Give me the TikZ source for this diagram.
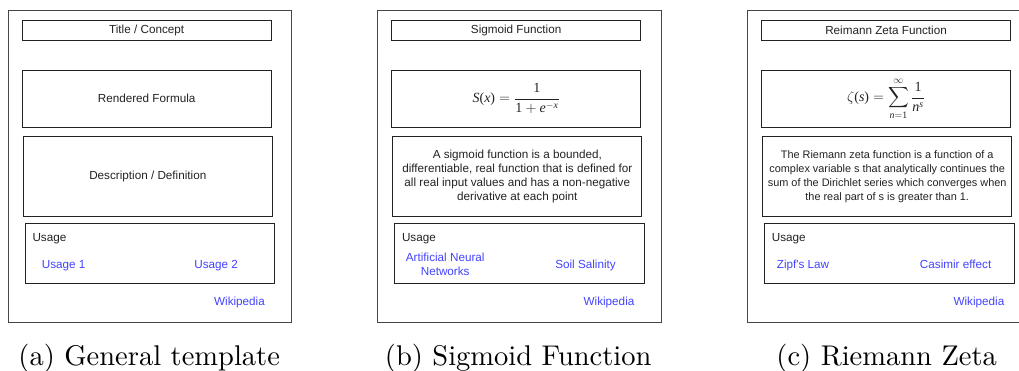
\documentclass[tikz,border=0pt]{standalone}
\usepackage{amsmath}
\usepackage{fontspec}
\newfontfamily\cardsans{Liberation Sans}
\newfontfamily\cardserif{Liberation Serif}
% captions keep the 10pt design of Latin Modern, scaled up
\newfontfamily\capfont{lmroman10-regular.otf}
% Times-style letters inside the formulas
\newcommand\fmi[1]{\text{\cardserif\itshape #1}}
\newcommand\fmu[1]{\text{\cardserif #1}}
\definecolor{linkblue}{RGB}{66,66,255}
\definecolor{ink}{RGB}{34,34,34}
\definecolor{frame}{RGB}{70,70,70}

\tikzset{
  cardframe/.style={draw=frame, line width=0.9pt, inner sep=0pt,
    minimum width=283.4pt, minimum height=312.3pt},
  cardbox/.style={draw=ink, line width=0.9pt, inner sep=0pt, align=center,
    text=ink, font=\cardsans\fontsize{11.7}{14}\selectfont},
  cardtext/.style={inner sep=0pt, text=ink, font=\cardsans\fontsize{11.7}{14}\selectfont},
  cardlink/.style={inner sep=0pt, align=center, text=linkblue,
    font=\cardsans\fontsize{11.7}{14}\selectfont},
  formula/.style={font=\fontsize{14}{17}\selectfont},
  subcap/.style={inner sep=0pt, anchor=base, font=\capfont\fontsize{28.5}{34}\selectfont},
}

\begin{document}
\begin{tikzpicture}[x=1pt, y=-1pt]
\useasboundingbox (0,0) rectangle (1019,370);
\clip (0,0) rectangle (1019,370);

% ---------- (a) general template ----------
\begin{scope}
  \node[cardframe] (a-frame) at (150,166.15) {};
  \node[cardbox, minimum width=248.7pt, minimum height=20pt] (a-title) at (146.65,30.7) {Title / Concept};
  \node[cardbox, minimum width=248.7pt, minimum height=56.7pt] (a-formula) at (146.65,98.65) {Rendered Formula};
  \node[cardbox, minimum width=249pt, minimum height=80pt] (a-desc) at (147.8,176.3) {Description / Definition};
  \node[cardbox, minimum width=249.7pt, minimum height=60pt] (a-usage) at (149.85,253) {};
  \node[cardtext, anchor=base west] (a-usagelbl) at (32.3,241) {Usage};
  \node[cardlink, anchor=base] (a-use1) at (63.6,268.5) {Usage 1};
  \node[cardlink, anchor=base] (a-use2) at (216.2,268.5) {Usage 2};
  \node[cardlink, anchor=base] (a-wiki) at (239.5,305) {Wikipedia};
  \node[subcap] (a-cap) at (149.2,365.5) {(a) General template};
\end{scope}

% ---------- (b) sigmoid function ----------
\begin{scope}[shift={(369.5,0)}]
  \node[cardframe] (b-frame) at (150,166.15) {};
  \node[cardbox, minimum width=248.7pt, minimum height=20pt] (b-title) at (146.65,30.7) {Sigmoid Function};
  \node[cardbox, minimum width=248.7pt, minimum height=56.7pt, formula] (b-formula) at (146.65,98.65)
    {$\displaystyle \fmi{S}\fmu{(}\fmi{x}\fmu{)} = \frac{\fmu{1}}{\fmu{1} + \fmi{e}^{-\fmi{x}}}$};
  \node[cardbox, minimum width=249pt, minimum height=80pt] (b-desc) at (147.8,176.3)
    {A sigmoid function is a bounded,\\
     differentiable, real function that is defined for\\
     all real input values and has a non-negative\\
     derivative at each point};
  \node[cardbox, minimum width=249.7pt, minimum height=60pt] (b-usage) at (149.85,253) {};
  \node[cardtext, anchor=base west] (b-usagelbl) at (32.3,241) {Usage};
  \node[cardlink] (b-use1) at (75.7,264.5) {Artificial Neural\\Networks};
  \node[cardlink, anchor=base] (b-use2) at (216,268.5) {Soil Salinity};
  \node[cardlink, anchor=base] (b-wiki) at (239.5,305) {Wikipedia};
  \node[subcap] (b-cap) at (148.7,365.5) {(b) Sigmoid Function};
\end{scope}

% ---------- (c) Riemann zeta function ----------
\begin{scope}[shift={(739.4,0)}]
  \node[cardframe] (c-frame) at (150,166.15) {};
  \node[cardbox, minimum width=248.7pt, minimum height=20pt] (c-title) at (146.65,30.7) {Reimann Zeta Function};
  \node[cardbox, minimum width=248.7pt, minimum height=56.7pt, formula] (c-formula) at (146.65,98.65)
    {$\displaystyle \zeta\fmu{(}\fmi{s}\fmu{)} = \sum_{\fmi{n}=\fmu{1}}^{\infty} \frac{\fmu{1}}{\fmi{n}^{\fmi{s}}}$};
  \node[cardbox, minimum width=249pt, minimum height=80pt, font=\cardsans\fontsize{10.9}{14}\selectfont] (c-desc) at (147.8,176.3)
    {The Riemann zeta function is a function of a\\
     complex variable s that analytically continues the\\
     sum of the Dirichlet series which converges when\\
     the real part of s is greater than 1.};
  \node[cardbox, minimum width=249.7pt, minimum height=60pt] (c-usage) at (149.85,253) {};
  \node[cardtext, anchor=base west] (c-usagelbl) at (32.3,241) {Usage};
  \node[cardlink, anchor=base] (c-use1) at (63.6,268.5) {Zipf's Law};
  \node[cardlink, anchor=base] (c-use2) at (216.2,268.5) {Casimir effect};
  \node[cardlink, anchor=base] (c-wiki) at (239.5,305) {Wikipedia};
  \node[subcap] (c-cap) at (147.3,365.5) {(c) Riemann Zeta};
\end{scope}
\end{tikzpicture}
\end{document}
